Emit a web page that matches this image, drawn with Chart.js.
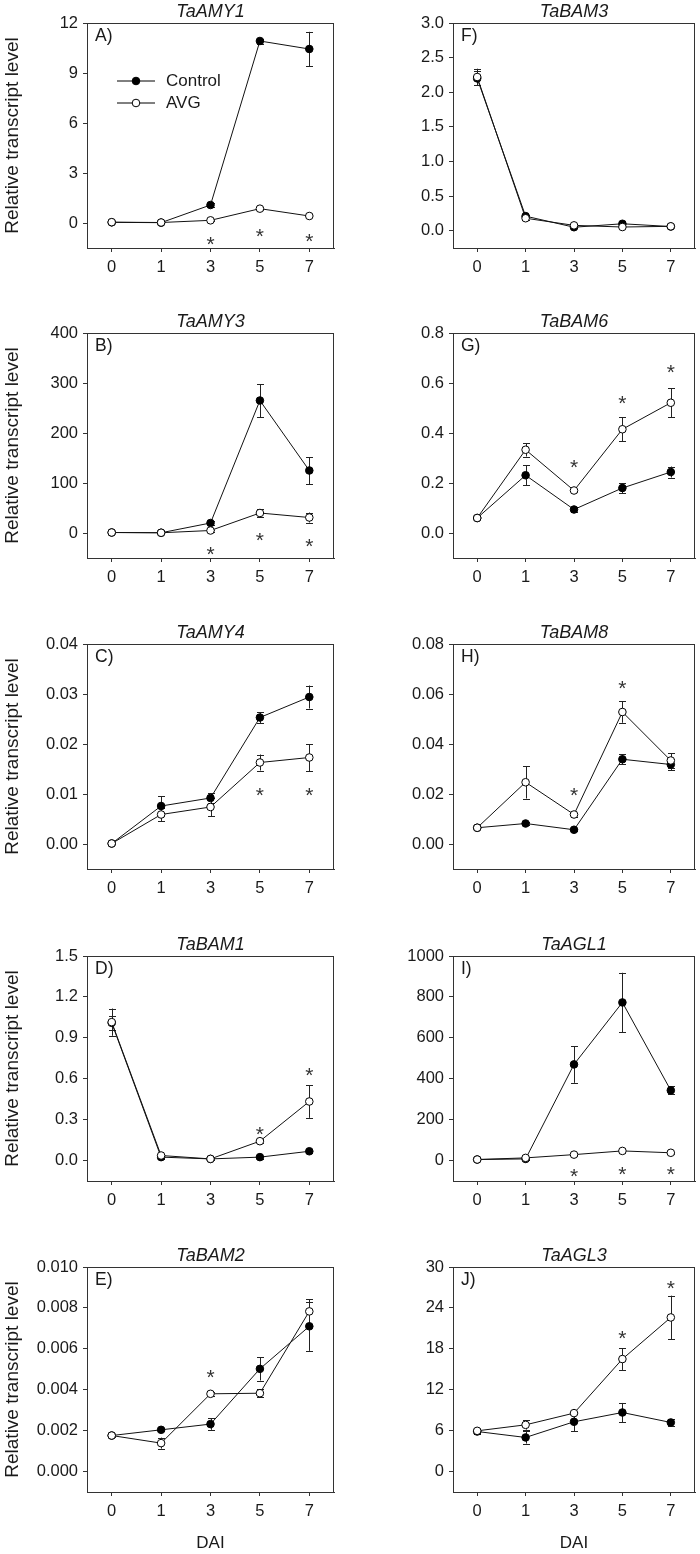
<!DOCTYPE html>
<html>
<head>
<meta charset="utf-8">
<script src="https://cdn.jsdelivr.net/npm/chart.js@4/dist/chart.umd.min.js"></script>
<style>
body { margin: 0; background: #fff; width: 700px; height: 1554px; position: relative; overflow: hidden; }
.panel { position: absolute; }
</style>
</head>
<body>
<script>
var days = ['0', '1', '3', '5', '7'];

// A) TaAMY1
var amy1Ctrl = [0.04, 0.02, 1.08, 10.92, 10.44];
var amy1CtrlErr = [0.02, 0.02, 0.1, 0.15, 1.03];
var amy1Avg = [0.05, 0.03, 0.16, 0.86, 0.42];
var amy1AvgErr = [0.02, 0.02, 0.05, 0.1, 0.08];
var amy1Star = [null, null, -0.95, -0.45, -0.75];
var amy1Ticks = ['0', '3', '6', '9', '12'];

// B) TaAMY3
var amy3Ctrl = [1, 0.5, 20, 265, 125];
var amy3CtrlErr = [1, 1, 4, 33, 27];
var amy3Avg = [1, 0.5, 5, 40, 31];
var amy3AvgErr = [0.5, 0.5, 2, 8, 10];
var amy3Star = [null, null, -32, -4, -16];
var amy3Ticks = ['0', '100', '200', '300', '400'];

// C) TaAMY4
var amy4Ctrl = [0.0001, 0.0076, 0.0092, 0.0253, 0.0294];
var amy4CtrlErr = [0.0001, 0.002, 0.001, 0.0011, 0.0023];
var amy4Avg = [0.0001, 0.0059, 0.0074, 0.0163, 0.0173];
var amy4AvgErr = [0.0001, 0.0013, 0.0018, 0.0016, 0.0027];
var amy4Star = [null, null, null, 0.0108, 0.0108];
var amy4Ticks = ['0.00', '0.01', '0.02', '0.03', '0.04'];

// D) TaBAM1
var bam1Ctrl = [1.01, 0.025, 0.012, 0.025, 0.068];
var bam1CtrlErr = [0.05, 0.01, 0.005, 0.01, 0.015];
var bam1Avg = [1.015, 0.037, 0.012, 0.142, 0.433];
var bam1AvgErr = [0.1, 0.01, 0.01, 0.015, 0.12];
var bam1Star = [null, null, null, 0.232, 0.665];
var bam1Ticks = ['0.0', '0.3', '0.6', '0.9', '1.2', '1.5'];

// E) TaBAM2
var bam2Ctrl = [0.00176, 0.00204, 0.00232, 0.00502, 0.0071];
var bam2CtrlErr = [0.00005, 0.00008, 0.00028, 0.00057, 0.0012];
var bam2Avg = [0.00176, 0.00139, 0.0038, 0.00383, 0.00783];
var bam2AvgErr = [0.00005, 0.00027, 0.0001, 0.0002, 0.0006];
var bam2Star = [null, null, 0.00486, null, null];
var bam2Ticks = ['0.000', '0.002', '0.004', '0.006', '0.008', '0.010'];

// F) TaBAM3
var bam3Ctrl = [2.2, 0.21, 0.05, 0.1, 0.06];
var bam3CtrlErr = [0.1, 0.02, 0.01, 0.02, 0.01];
var bam3Avg = [2.22, 0.18, 0.077, 0.053, 0.063];
var bam3AvgErr = [0.12, 0.02, 0.01, 0.01, 0.01];
var bam3Star = [null, null, null, null, null];
var bam3Ticks = ['0.0', '0.5', '1.0', '1.5', '2.0', '2.5', '3.0'];

// G) TaBAM6
var bam6Ctrl = [0.06, 0.231, 0.094, 0.18, 0.244];
var bam6CtrlErr = [0.005, 0.04, 0.01, 0.02, 0.022];
var bam6Avg = [0.06, 0.333, 0.17, 0.415, 0.521];
var bam6AvgErr = [0.005, 0.027, 0.006, 0.048, 0.058];
var bam6Star = [null, null, 0.283, 0.539, 0.665];
var bam6Ticks = ['0.0', '0.2', '0.4', '0.6', '0.8'];

// H) TaBAM8
var bam8Ctrl = [0.0065, 0.0082, 0.0057, 0.0339, 0.0318];
var bam8CtrlErr = [0.0003, 0.0006, 0.0005, 0.002, 0.0022];
var bam8Avg = [0.0065, 0.0247, 0.0118, 0.0528, 0.0334];
var bam8AvgErr = [0.0003, 0.0065, 0.0008, 0.0043, 0.003];
var bam8Star = [null, null, 0.0217, 0.0645, null];
var bam8Ticks = ['0.00', '0.02', '0.04', '0.06', '0.08'];

// I) TaAGL1
var agl1Ctrl = [5, 8, 470, 773, 343];
var agl1CtrlErr = [2, 4, 90, 145, 20];
var agl1Avg = [5, 13, 29, 47, 38];
var agl1AvgErr = [2, 3, 5, 8, 5];
var agl1Star = [null, null, -52, -42, -42];
var agl1Ticks = ['0', '200', '400', '600', '800', '1000'];

// J) TaAGL3
var agl3Ctrl = [5.87, 5.0, 7.3, 8.66, 7.2];
var agl3CtrlErr = [0.3, 0.9, 1.4, 1.4, 0.5];
var agl3Avg = [5.97, 6.85, 8.57, 16.5, 22.6];
var agl3AvgErr = [0.3, 0.7, 0.2, 1.6, 3.2];
var agl3Star = [null, null, null, 20.3, 27.6];
var agl3Ticks = ['0', '6', '12', '18', '24', '30'];

var panels = [
    { title: 'TaAMY1', letter: 'A)', col: 0, row: 0, min: -1.5, max: 12, ticks: amy1Ticks, ctrl: amy1Ctrl, ctrlErr: amy1CtrlErr, avg: amy1Avg, avgErr: amy1AvgErr, star: amy1Star, legend: true },
    { title: 'TaAMY3', letter: 'B)', col: 0, row: 1, min: -50, max: 400, ticks: amy3Ticks, ctrl: amy3Ctrl, ctrlErr: amy3CtrlErr, avg: amy3Avg, avgErr: amy3AvgErr, star: amy3Star },
    { title: 'TaAMY4', letter: 'C)', col: 0, row: 2, min: -0.005, max: 0.04, ticks: amy4Ticks, ctrl: amy4Ctrl, ctrlErr: amy4CtrlErr, avg: amy4Avg, avgErr: amy4AvgErr, star: amy4Star },
    { title: 'TaBAM1', letter: 'D)', col: 0, row: 3, min: -0.15, max: 1.5, ticks: bam1Ticks, ctrl: bam1Ctrl, ctrlErr: bam1CtrlErr, avg: bam1Avg, avgErr: bam1AvgErr, star: bam1Star },
    { title: 'TaBAM2', letter: 'E)', col: 0, row: 4, min: -0.001, max: 0.010, ticks: bam2Ticks, ctrl: bam2Ctrl, ctrlErr: bam2CtrlErr, avg: bam2Avg, avgErr: bam2AvgErr, star: bam2Star },
    { title: 'TaBAM3', letter: 'F)', col: 1, row: 0, min: -0.25, max: 3, ticks: bam3Ticks, ctrl: bam3Ctrl, ctrlErr: bam3CtrlErr, avg: bam3Avg, avgErr: bam3AvgErr, star: bam3Star },
    { title: 'TaBAM6', letter: 'G)', col: 1, row: 1, min: -0.1, max: 0.8, ticks: bam6Ticks, ctrl: bam6Ctrl, ctrlErr: bam6CtrlErr, avg: bam6Avg, avgErr: bam6AvgErr, star: bam6Star },
    { title: 'TaBAM8', letter: 'H)', col: 1, row: 2, min: -0.01, max: 0.08, ticks: bam8Ticks, ctrl: bam8Ctrl, ctrlErr: bam8CtrlErr, avg: bam8Avg, avgErr: bam8AvgErr, star: bam8Star },
    { title: 'TaAGL1', letter: 'I)', col: 1, row: 3, min: -100, max: 1000, ticks: agl1Ticks, ctrl: agl1Ctrl, ctrlErr: agl1CtrlErr, avg: agl1Avg, avgErr: agl1AvgErr, star: agl1Star },
    { title: 'TaAGL3', letter: 'J)', col: 1, row: 4, min: -3, max: 30, ticks: agl3Ticks, ctrl: agl3Ctrl, ctrlErr: agl3CtrlErr, avg: agl3Avg, avgErr: agl3AvgErr, star: agl3Star }
];

var FONT = "'Liberation Sans', Arial, sans-serif";
var boxTops = [23, 333, 644, 956, 1267];
var ink = '#1a1a1a';

// error bars, asterisks, frame, titles and the legend
var decoPlugin = {
    id: 'deco',
    beforeDatasetsDraw: function (chart) {
        var ctx = chart.ctx;
        var ys = chart.scales.y;
        ctx.save();
        ctx.strokeStyle = '#222';
        ctx.lineWidth = 1;
        chart.data.datasets.forEach(function (ds, d) {
            var meta = chart.getDatasetMeta(d);
            ds.errors.forEach(function (e, i) {
                var x = Math.round(meta.data[i].x) + 0.5;
                var y1 = ys.getPixelForValue(ds.data[i] + e);
                var y2 = ys.getPixelForValue(ds.data[i] - e);
                ctx.beginPath();
                ctx.moveTo(x, y1); ctx.lineTo(x, y2);
                ctx.moveTo(x - 3.5, Math.round(y1) + 0.5); ctx.lineTo(x + 3.5, Math.round(y1) + 0.5);
                ctx.moveTo(x - 3.5, Math.round(y2) + 0.5); ctx.lineTo(x + 3.5, Math.round(y2) + 0.5);
                ctx.stroke();
            });
        });
        ctx.restore();
    },
    afterDraw: function (chart) {
        var ctx = chart.ctx;
        var a = chart.chartArea;
        var p = chart.options.plugins.deco;
        var xs = chart.scales.x, ys = chart.scales.y;
        ctx.save();
        // frame
        ctx.strokeStyle = '#333';
        ctx.lineWidth = 1;
        ctx.strokeRect(Math.round(a.left) + 0.5, Math.round(a.top) + 0.5, Math.round(a.right - a.left) - 1, Math.round(a.bottom - a.top));
        // asterisks
        ctx.fillStyle = '#333';
        ctx.font = '21px ' + FONT;
        ctx.textAlign = 'center';
        ctx.textBaseline = 'alphabetic';
        p.star.forEach(function (s, i) {
            if (s === null) return;
            ctx.fillText('*', xs.getPixelForValue(i), ys.getPixelForValue(s) + 12);
        });
        // gene name
        ctx.fillStyle = ink;
        ctx.font = 'italic 18px ' + FONT;
        ctx.textBaseline = 'middle';
        ctx.fillText(p.title, (a.left + a.right) / 2, a.top - 11);
        // panel letter
        ctx.font = '17.5px ' + FONT;
        ctx.textAlign = 'left';
        ctx.fillText(p.letter, a.left + 8, a.top + 13);
        if (p.legend) {
            var rows = [['Control', '#000'], ['AVG', '#fff']];
            ctx.font = '17px ' + FONT;
            rows.forEach(function (r, k) {
                var y = a.top + 58 + k * 22;
                ctx.strokeStyle = '#000';
                ctx.beginPath();
                ctx.moveTo(a.left + 30, y); ctx.lineTo(a.left + 68, y);
                ctx.stroke();
                ctx.beginPath();
                ctx.arc(a.left + 49, y, 3.8, 0, Math.PI * 2);
                ctx.fillStyle = r[1];
                ctx.fill();
                ctx.stroke();
                ctx.fillStyle = ink;
                ctx.fillText(r[0], a.left + 79, y);
            });
        }
        ctx.restore();
    }
};

panels.forEach(function (p) {
    var last = p.row === 4;
    var w = p.col === 0 ? 340 : 350;
    var h = 23 + 225 + (last ? 62 : 40);
    var div = document.createElement('div');
    div.className = 'panel';
    div.style.left = (p.col === 0 ? 0 : 350) + 'px';
    div.style.top = (boxTops[p.row] - 23) + 'px';
    var canvas = document.createElement('canvas');
    canvas.width = w;
    canvas.height = h;
    div.appendChild(canvas);
    document.body.appendChild(div);

    new Chart(canvas, {
        type: 'line',
        data: {
            labels: days,
            datasets: [
                {
                    label: 'Control', data: p.ctrl, errors: p.ctrlErr, order: 1,
                    borderColor: '#111', borderWidth: 1, tension: 0,
                    pointRadius: 3.8, pointBorderWidth: 1,
                    pointBackgroundColor: '#000', pointBorderColor: '#000'
                },
                {
                    label: 'AVG', data: p.avg, errors: p.avgErr, order: 0,
                    borderColor: '#111', borderWidth: 1, tension: 0,
                    pointRadius: 3.8, pointBorderWidth: 1,
                    pointBackgroundColor: '#fff', pointBorderColor: '#000'
                }
            ]
        },
        options: {
            responsive: false,
            animation: false,
            events: [],
            layout: { padding: { top: 23, left: 0, right: p.col === 0 ? 6 : 1, bottom: 0 } },
            plugins: {
                legend: { display: false },
                tooltip: { enabled: false },
                deco: p
            },
            scales: {
                x: {
                    type: 'category',
                    offset: true,
                    grid: { display: true, offset: false, drawOnChartArea: false, drawTicks: true, tickLength: 4, color: '#333' },
                    border: { display: true, color: '#333' },
                    ticks: { color: ink, font: { family: FONT, size: 16.5 }, padding: 6, maxRotation: 0 },
                    title: { display: last, text: 'DAI', color: ink, font: { family: FONT, size: 17 }, padding: { top: 6, bottom: 0 } },
                    afterFit: function (scale) { scale.height = last ? 62 : 40; }
                },
                y: {
                    min: p.min,
                    max: p.max,
                    afterBuildTicks: function (scale) {
                        scale.ticks = p.ticks.map(function (t) { return { value: parseFloat(t) }; });
                    },
                    grid: { display: true, drawOnChartArea: false, drawTicks: true, tickLength: 4, color: '#333' },
                    border: { display: true, color: '#333' },
                    ticks: {
                        color: ink, font: { family: FONT, size: 16.5 }, padding: 5,
                        callback: function (v, i) { return p.ticks[i]; }
                    },
                    title: { display: p.col === 0, text: 'Relative transcript level', color: ink, font: { family: FONT, size: 19 }, padding: { top: 1, bottom: 0 } },
                    afterFit: function (scale) { scale.width = p.col === 0 ? 87 : 103; }
                }
            }
        },
        plugins: [decoPlugin]
    });
});
</script>
</body>
</html>
